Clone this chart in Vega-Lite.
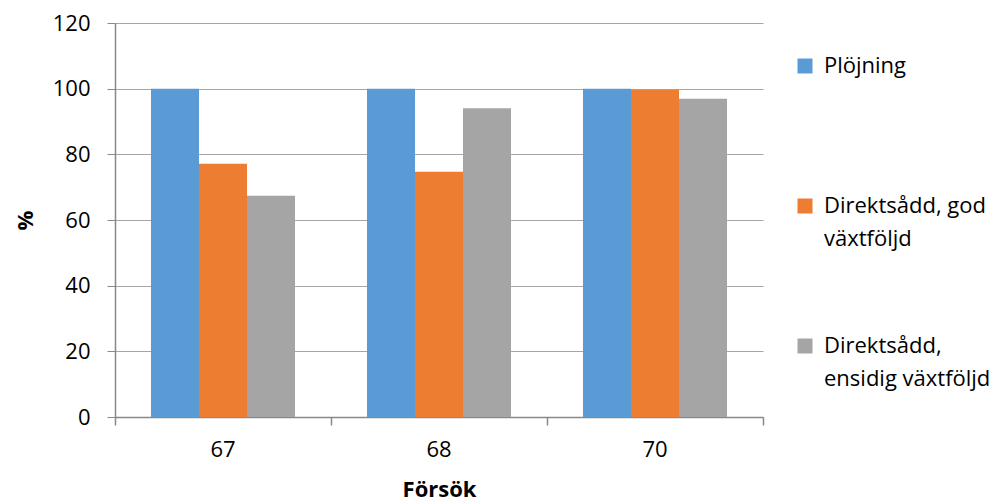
{
  "$schema": "https://vega.github.io/schema/vega-lite/v6.json",
  "width": 648,
  "height": 394,
  "autosize": {"type": "none"},
  "padding": {"left": 115, "top": 23, "right": 232, "bottom": 87},
  "background": "white",
  "config": {
    "view": {"stroke": null},
    "font": "Open Sans",
    "axis": {"labelFont": "Open Sans", "titleFont": "Open Sans", "labelColor": "#000000", "titleColor": "#000000"}
  },
  "layer": [
    {
      "data": {
        "values": [
          {"forsok": "67", "serie": "Plöjning", "value": 100},
          {"forsok": "67", "serie": "Direktsådd, god växtföljd", "value": 77.1},
          {"forsok": "67", "serie": "Direktsådd, ensidig växtföljd", "value": 67.4},
          {"forsok": "68", "serie": "Plöjning", "value": 100},
          {"forsok": "68", "serie": "Direktsådd, god växtföljd", "value": 74.7},
          {"forsok": "68", "serie": "Direktsådd, ensidig växtföljd", "value": 94.0},
          {"forsok": "70", "serie": "Plöjning", "value": 100},
          {"forsok": "70", "serie": "Direktsådd, god växtföljd", "value": 99.7},
          {"forsok": "70", "serie": "Direktsådd, ensidig växtföljd", "value": 96.9}
        ]
      },
      "mark": {"type": "bar"},
      "encoding": {
        "x": {
          "field": "forsok",
          "type": "nominal",
          "scale": {"paddingInner": 0.3333, "paddingOuter": 0.16667},
          "axis": {
            "orient": "bottom",
            "title": "Försök",
            "titleFontSize": 22,
            "titleFontWeight": "bold",
            "titlePadding": 19,
            "labelAngle": 0,
            "labelFontSize": 22,
            "labelPadding": 22,
            "ticks": false,
            "domainColor": "#898989",
            "domainWidth": 1.5
          }
        },
        "xOffset": {
          "field": "serie",
          "type": "nominal",
          "sort": ["Plöjning", "Direktsådd, god växtföljd", "Direktsådd, ensidig växtföljd"],
          "scale": {"paddingInner": 0, "paddingOuter": 0}
        },
        "y": {
          "field": "value",
          "type": "quantitative",
          "scale": {"domain": [0, 120], "nice": false},
          "axis": {
            "title": "%",
            "titleFontSize": 22,
            "titleFontWeight": "bold",
            "titlePadding": 15,
            "values": [0, 20, 40, 60, 80, 100, 120],
            "labelFontSize": 22,
            "labelPadding": 17,
            "tickSize": 8,
            "tickColor": "#898989",
            "domainColor": "#898989",
            "domainWidth": 1.5,
            "gridColor": "#a6a6a6",
            "gridWidth": 1.2
          }
        },
        "color": {
          "field": "serie",
          "type": "nominal",
          "sort": ["Plöjning", "Direktsådd, god växtföljd", "Direktsådd, ensidig växtföljd"],
          "scale": {
            "domain": ["Plöjning", "Direktsådd, god växtföljd", "Direktsådd, ensidig växtföljd"],
            "range": ["#5B9BD5", "#ED7D31", "#A5A5A5"]
          },
          "legend": {
            "title": null,
            "orient": "none",
            "legendX": 679,
            "legendY": 32,
            "symbolType": "square",
            "symbolSize": 225,
            "symbolStrokeWidth": 0,
            "labelFontSize": 22,
            "labelFont": "Open Sans",
            "labelColor": "#000000",
            "labelLimit": 300,
            "labelOffset": 8,
            "labelBaseline": "middle",
            "rowPadding": 85,
            "labelExpr": "datum.label == 'Direktsådd, god växtföljd' ? ['Direktsådd, god', 'växtföljd'] : datum.label == 'Direktsådd, ensidig växtföljd' ? ['Direktsådd,', 'ensidig växtföljd'] : ['Plöjning', '']",
            "encode": {"labels": {"update": {"lineHeight": {"value": 33}}}}
          }
        }
      }
    },
    {
      "data": {"values": [{"b": 0}, {"b": 1}, {"b": 2}, {"b": 3}]},
      "mark": {"type": "point", "opacity": 0},
      "encoding": {
        "x": {
          "field": "b",
          "type": "quantitative",
          "scale": {"domain": [0, 3], "nice": false, "zero": false},
          "axis": {
            "orient": "bottom",
            "title": null,
            "values": [0, 1, 2, 3],
            "labels": false,
            "domain": false,
            "grid": false,
            "ticks": true,
            "tickSize": 8,
            "tickColor": "#898989",
            "tickWidth": 1.5
          }
        }
      }
    }
  ],
  "resolve": {"scale": {"x": "independent"}, "axis": {"x": "independent"}}
}
